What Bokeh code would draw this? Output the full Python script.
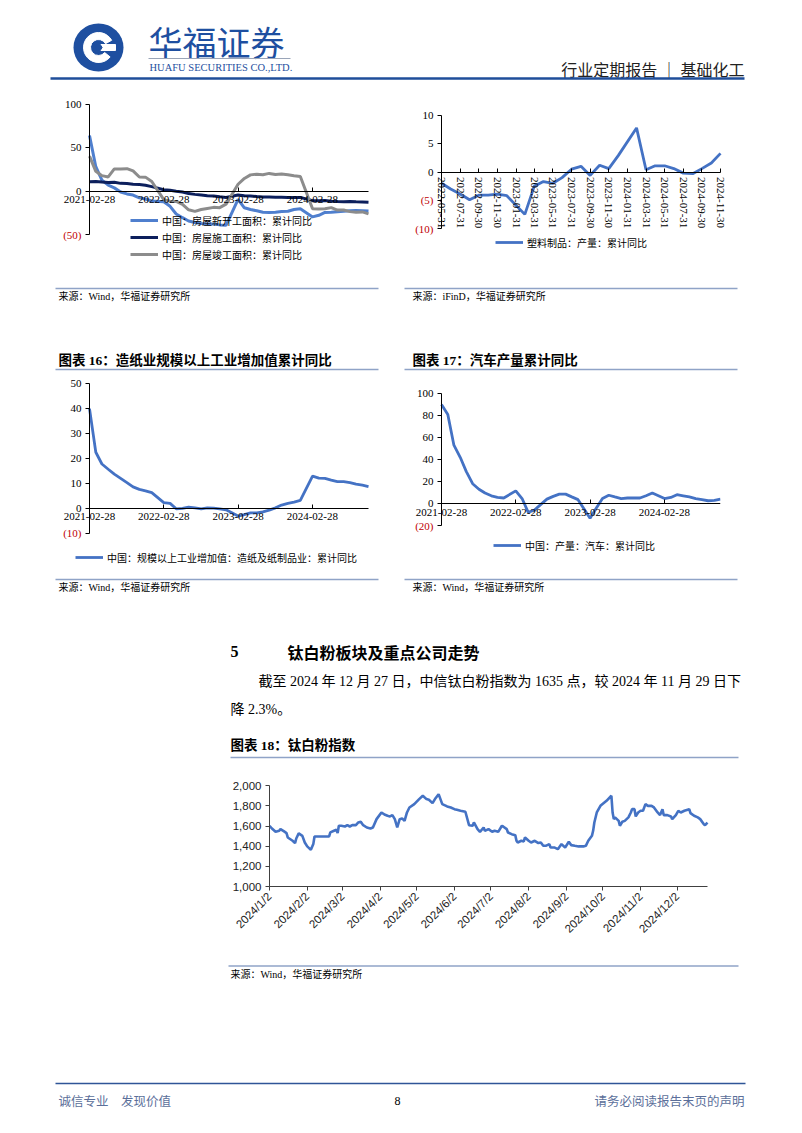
import pandas as pd
from bokeh.plotting import figure
from bokeh.layouts import column, row
from bokeh.models import (Range1d, LinearAxis, FixedTicker, CustomJSTickFormatter,
                          NumeralTickFormatter, Legend, LegendItem, ColumnDataSource)
from bokeh.core.properties import value
from bokeh.embed import file_html
from bokeh.resources import INLINE

SERIF = "Liberation Serif, Noto Sans CJK SC"
CJK = "Noto Sans CJK SC"
SANS = "Liberation Sans, Noto Sans CJK SC"
BLUE = "#4472C4"
RED = "#C00000"
LIGHT = "#8FA3C7"
NAVY = "#1F4E9A"

# ---------------- data ----------------
monthly = [f"{y}-{m:02d}" for y in (2021, 2022, 2023) for m in range(2, 13)] + \
          [f"2024-{m:02d}" for m in range(2, 12)]

starts_yoy = [64.3, 28.2, 12.8, 6.9, 3.8, -0.9, -3.2, -4.5, -7.7, -9.1, -11.4,
              -12.2, -17.5, -26.3, -30.6, -34.4, -36.1, -37.2, -38.0, -37.8, -38.9, -39.4,
              -9.4, -19.2, -21.2, -22.6, -24.3, -24.5, -24.4, -23.4, -23.2, -21.2, -20.4,
              -29.7, -27.8, -24.6, -24.2, -23.7, -23.2, -22.5, -22.2, -22.6, -23.0]
under_constr_yoy = [11.0, 11.2, 10.5, 10.1, 10.2, 9.0, 8.9, 7.9, 7.6, 6.9, 5.2,
                    1.6, 1.0, 0.0, -1.0, -2.8, -3.7, -4.5, -5.3, -5.7, -6.5, -7.2,
                    -4.4, -5.2, -5.6, -6.2, -6.6, -6.8, -7.1, -7.1, -7.3, -7.2, -7.2,
                    -11.0, -11.1, -10.8, -11.6, -12.0, -12.1, -12.0, -12.2, -12.4, -12.7]
completed_yoy = [40.4, 22.9, 17.9, 16.4, 25.7, 25.7, 26.0, 23.4, 16.3, 16.2, 11.2,
                 -9.8, -11.5, -11.9, -15.3, -21.5, -23.3, -21.1, -19.9, -18.7, -19.0, -15.0,
                 8.0, 14.7, 18.8, 19.6, 19.0, 20.5, 19.2, 19.8, 19.0, 17.9, 17.0,
                 -20.2, -20.7, -20.4, -19.0, -21.8, -21.8, -23.6, -24.4, -23.9, -26.2]

plastic_months = [f"2022-{m:02d}" for m in range(5, 13)] + \
                 [f"2023-{m:02d}" for m in range(2, 13)] + \
                 [f"2024-{m:02d}" for m in range(2, 12)]
plastic_yoy = [-2.0, -3.0, -3.9, -4.9, -4.1, -4.1, -3.9, -4.2,
               -7.5, -2.5, -1.7, -2.0, -1.0, 0.5, 1.0, -0.6, 1.2, 0.6, 2.9,
               7.8, 0.4, 1.1, 1.1, 0.6, -0.2, -0.3, 0.6, 1.6, 3.3]

paper_yoy = [39.9, 22.4, 17.7, 15.6, 13.6, 11.9, 10.2, 8.5, 7.5, 6.9, 6.2,
             2.2, 1.9, -0.3, -0.1, 0.4, 0.1, -0.3, 0.1, 0.0, -0.3, -0.7,
             -3.2, -2.6, -1.9, -1.9, -1.5, -0.8, 0.1, 1.2, 1.9, 2.4, 3.1,
             12.8, 12.0, 11.9, 11.2, 10.6, 10.6, 10.2, 9.6, 9.2, 8.6]

auto_yoy = [90, 81, 53, 42, 29, 18, 13, 9.5, 7, 5.5, 5,
            11.5, 4.5, -8, -6, -1, 4, 6.5, 8.5, 8.5, 6, 3.5,
            -13.5, -4, 4.5, 7.5, 6, 4.5, 5, 5, 5, 7, 9.5,
            4.5, 5.5, 8, 7, 6, 4.5, 3.5, 2.5, 2.8, 4]

ti_dates = ["01-02", "01-04", "01-07", "01-10", "01-11", "01-14", "01-16", "01-17", "01-21", "01-23",
            "01-24", "01-26", "01-29", "01-31", "02-02", "02-05", "02-07", "02-08", "02-12", "02-16",
            "02-20", "02-21", "02-24", "02-26", "02-27", "02-28", "03-01", "03-04", "03-06", "03-08",
            "03-10", "03-13", "03-15", "03-17", "03-19", "03-22", "03-25", "03-27", "03-30", "04-03",
            "04-06", "04-08", "04-10", "04-12", "04-14", "04-16", "04-18", "04-20", "04-22", "04-24",
            "04-26", "04-30", "05-04", "05-07", "05-10", "05-12", "05-15", "05-17", "05-20", "05-23",
            "05-27", "05-30", "06-02", "06-04", "06-07", "06-11", "06-14", "06-17", "06-18", "06-21",
            "06-23", "06-26", "06-27", "06-30", "07-03", "07-05", "07-08", "07-11", "07-12", "07-15",
            "07-16", "07-19", "07-22", "07-23", "07-24", "07-27", "07-29", "07-30", "08-02", "08-04",
            "08-07", "08-10", "08-12", "08-14", "08-16", "08-19", "08-20", "08-23", "08-26", "08-29",
            "09-01", "09-04", "09-06", "09-09", "09-12", "09-16", "09-18", "09-20", "09-23", "09-24",
            "09-25", "09-27", "09-30", "10-05", "10-09", "10-10", "10-11", "10-12", "10-15", "10-16",
            "10-18", "10-20", "10-23", "10-25", "10-26", "10-28", "10-29", "10-31", "11-02", "11-04",
            "11-06", "11-08", "11-11", "11-13", "11-16", "11-18", "11-20", "11-21", "11-24", "11-27",
            "11-28", "12-01", "12-03", "12-05", "12-08", "12-12", "12-13", "12-16", "12-19", "12-21",
            "12-24", "12-25", "12-27"]
ti_values = [1603, 1576, 1543, 1553, 1570, 1547, 1530, 1487, 1454, 1431,
             1477, 1527, 1503, 1437, 1398, 1364, 1421, 1497, 1497, 1497,
             1497, 1537, 1553, 1563, 1530, 1603, 1603, 1596, 1609, 1596,
             1609, 1609, 1636, 1643, 1609, 1586, 1576, 1586, 1669, 1735,
             1712, 1702, 1696, 1709, 1669, 1586, 1669, 1676, 1652, 1735,
             1785, 1818, 1868, 1901, 1868, 1861, 1828, 1868, 1917, 1818,
             1795, 1785, 1768, 1762, 1752, 1742, 1609, 1603, 1636, 1570,
             1543, 1586, 1553, 1570, 1543, 1553, 1543, 1603, 1596, 1570,
             1536, 1520, 1510, 1454, 1437, 1454, 1447, 1487, 1454, 1437,
             1454, 1431, 1437, 1404, 1404, 1421, 1388, 1388, 1371, 1421,
             1388, 1444, 1411, 1404, 1398, 1398, 1404, 1454, 1503, 1553,
             1636, 1735, 1801, 1851, 1901, 1735, 1669, 1686, 1652, 1603,
             1643, 1652, 1686, 1735, 1768, 1768, 1696, 1735, 1752, 1752,
             1818, 1801, 1801, 1785, 1735, 1709, 1768, 1709, 1709, 1696,
             1669, 1709, 1752, 1735, 1752, 1768, 1729, 1702, 1686, 1669,
             1619, 1609, 1635]

c1_xticks = ["2021-02-28", "2022-02-28", "2023-02-28", "2024-02-28"]
c2_xticks = ["2022-05-31", "2022-07-31", "2022-09-30", "2022-11-30", "2023-01-31", "2023-03-31",
             "2023-05-31", "2023-07-31", "2023-09-30", "2023-11-30", "2024-01-31", "2024-03-31",
             "2024-05-31", "2024-07-31", "2024-09-30", "2024-11-30"]
c18_xticks = [f"2024-{m:02d}-02" for m in range(1, 13)]
c1_yticks = [-50, 0, 50, 100]
c2_yticks = [-10, -5, 0, 5, 10]
c16_yticks = [-10, 0, 10, 20, 30, 40, 50]
c17_yticks = [-20, 0, 20, 40, 60, 80, 100]
c18_yticks = [1000, 1200, 1400, 1600, 1800, 2000]

# ---------------- helpers ----------------
def month_end(lst):
    return pd.to_datetime(lst) + pd.offsets.MonthEnd(0)


def ms(s):
    return pd.Timestamp(s).value / 1e6


def xr_from(d0, d1, p0, p1, f0, f1):
    """x range so that date d0 sits at pixel p0 and d1 at p1, for a frame spanning f0..f1."""
    t0, t1 = pd.Timestamp(d0), pd.Timestamp(d1)
    k = (p1 - p0) / ((t1 - t0) / pd.Timedelta(days=1))
    return (t0 - pd.Timedelta(days=(p0 - f0) / k), t0 + pd.Timedelta(days=(f1 - p0) / k))


def yr_from(v0, v1, p0, p1, f0, f1):
    """y range so that value v0 sits at page y p0 and v1 at p1 (page y downwards), frame f0(top)..f1(bottom)."""
    k = (p0 - p1) / (v1 - v0)
    return (v0 - (f1 - p0) / k, v0 + (p0 - f0) / k)


DATE_JS = """
const d = new Date(tick);
const m = String(d.getUTCMonth() + 1).padStart(2, '0');
const dd = String(d.getUTCDate()).padStart(2, '0');
return d.getUTCFullYear() + '-' + m + '-' + dd;
"""
SLASH_JS = """
const d = new Date(tick);
return d.getUTCFullYear() + '/' + (d.getUTCMonth() + 1) + '/' + d.getUTCDate();
"""


def base_fig(W, H, **kw):
    p = figure(width=W, height=H, x_axis_type=None, y_axis_type=None, title=None,
               toolbar_location=None, output_backend="svg", outline_line_color=None,
               background_fill_color=None, border_fill_color=None, **kw)
    return p


PAGE_L = 45   # shared left border of all full-width column children


def strip(H, y0, mt=0):
    p = base_fig(802, H, x_range=Range1d(PAGE_L, 802), y_range=Range1d(y0 + H, y0),
                 min_border_left=PAGE_L, min_border_right=0, min_border_top=0, min_border_bottom=0)
    p.margin = (mt, 0, 0, 0)
    return p


def txt(p, x, y, s, size, font=SERIF, color="#000000", align="left", bold=False):
    p.text(x=[x], y=[y], text=[s], text_font=value(font), text_font_size=f"{size}px",
           text_align=align, text_baseline="middle", text_color=color,
           text_font_style="bold" if bold else "normal")


def hline(p, x0, x1, y, color=LIGHT, w=1.5):
    p.line(x=[x0, x1], y=[y, y], line_color=color, line_width=w)


def chart(W, H, L, R, T, B, xr, yr, ml=0):
    p = base_fig(W, H, x_range=Range1d(*xr), y_range=Range1d(*yr),
                 min_border_left=L, min_border_right=R, min_border_top=T, min_border_bottom=B)
    p.margin = (0, 0, 0, ml)
    return p


def y_axes(p, ticks, x0):
    pos = LinearAxis(ticker=FixedTicker(ticks=ticks, minor_ticks=[]),
                     formatter=CustomJSTickFormatter(code="return tick < 0 ? '' : String(tick);"),
                     bounds=(min(ticks), max(ticks)), fixed_location=x0,
                     major_tick_out=4, major_tick_in=0, minor_tick_line_color=None,
                     major_label_standoff=4, major_label_text_font=SERIF,
                     major_label_text_font_size="11px", major_label_text_color="#000000",
                     axis_line_color="#000000", major_tick_line_color="#000000")
    neg = LinearAxis(ticker=FixedTicker(ticks=[t for t in ticks if t < 0], minor_ticks=[]),
                     formatter=CustomJSTickFormatter(code="return '(' + Math.abs(tick) + ')';"),
                     fixed_location=x0, axis_line_color=None, major_tick_line_color=None,
                     minor_tick_line_color=None, major_tick_out=0, major_tick_in=0,
                     major_label_standoff=8, major_label_text_font=SERIF,
                     major_label_text_font_size="11px", major_label_text_color=RED)
    p.add_layout(neg, "left")
    p.add_layout(pos, "left")


def x_axis(p, ticks, code, bounds, orient="horizontal"):
    ax = LinearAxis(ticker=FixedTicker(ticks=[ms(t) for t in ticks], minor_ticks=[]),
                    formatter=CustomJSTickFormatter(code=code), fixed_location=0,
                    bounds=(ms(bounds[0]), ms(bounds[1])),
                    major_tick_in=4, major_tick_out=0, minor_tick_line_color=None,
                    major_label_orientation=orient, major_label_standoff=5,
                    major_label_text_font=SERIF, major_label_text_font_size="11px",
                    major_label_text_color="#000000", axis_line_color="#000000",
                    major_tick_line_color="#000000")
    p.add_layout(ax, "below")


def legend(p, items, loc):
    lg = Legend(items=[LegendItem(label=value(l), renderers=[r]) for l, r in items],
                location=loc, orientation="vertical", padding=0, margin=0, spacing=1,
                glyph_width=28, glyph_height=16, label_height=16, label_standoff=4,
                label_text_font=CJK, label_text_font_size="10px",
                label_text_color="#000000", border_line_color=None,
                background_fill_color=None, background_fill_alpha=0)
    p.add_layout(lg)


# ---------------- header ----------------
hdr = strip(95, 0)
hdr.ellipse(x=[98], y=[47], width=50, height=48, fill_color="#1E4FA0", line_color=None)
hdr.annular_wedge(x=[98], y=[47], inner_radius=8, outer_radius=15, start_angle=0.5,
                  end_angle=5.6, color="white")
hdr.rect(x=[107], y=[47], width=16, height=6, color="white")
hdr.scatter(x=[98], y=[47], marker="diamond", size=11, color="#1E4FA0")
txt(hdr, 148, 41, "华福证券", 34, font=CJK, color="#1E4FA0")
hline(hdr, 148, 290, 58, color="#9AA5B8", w=1)
txt(hdr, 149, 67, "HUAFU SECURITIES CO.,LTD.", 10.5, font=SERIF, color="#1E4FA0")
txt(hdr, 744, 68, "行业定期报告 ｜ 基础化工", 16, font=CJK, color="#222222", align="right")
hline(hdr, 50, 744, 78, color=NAVY, w=2.5)

# ---------------- row 1: frames at page y 100..262 ----------------
d1 = month_end(monthly)
src1 = ColumnDataSource(dict(x=d1, a=starts_yoy, b=under_constr_yoy, c=completed_yoy))
c1 = chart(380, 239, 60, 10, 5, 72,
           xr_from("2021-02-28", "2024-11-30", 89, 368, 60, 370),
           yr_from(100, -50, 104, 234, 100, 262))
y_axes(c1, c1_yticks, ms("2021-02-28"))
x_axis(c1, c1_xticks, DATE_JS, ("2021-02-28", "2024-11-30"))
r1a = c1.line("x", "a", source=src1, line_color="#4F7FCE", line_width=3)
r1b = c1.line("x", "b", source=src1, line_color="#0C1F5C", line_width=3)
r1c = c1.line("x", "c", source=src1, line_color="#8C8C8C", line_width=3)
legend(c1, [("中国：房屋新开工面积：累计同比", r1a), ("中国：房屋施工面积：累计同比", r1b),
            ("中国：房屋竣工面积：累计同比", r1c)], (130 - 60, 0))

d2 = month_end(plastic_months)
src2 = ColumnDataSource(dict(x=d2, y=plastic_yoy))
c2 = chart(462, 239, 60, 67, 5, 72,
           xr_from("2022-05-31", "2024-11-30", 441, 720, 400, 735),
           yr_from(10, -10, 115, 228, 100, 262), ml=-40)
y_axes(c2, c2_yticks, ms("2022-05-31"))
x_axis(c2, c2_xticks, DATE_JS, ("2022-05-31", "2024-11-30"), orient="vertical")
r2 = c2.line("x", "y", source=src2, line_color=BLUE, line_width=2.8)
legend(c2, [("塑料制品：产量：累计同比", r2)], (495 - 400, 12))

# ---------------- strip A (page y 278..375) ----------------
sa = strip(97, 278, mt=278 - 334)
hline(sa, 55, 378, 288)
hline(sa, 404, 737, 288)
txt(sa, 58, 296, "来源：Wind，华福证券研究所", 10)
txt(sa, 412, 296, "来源：iFinD，华福证券研究所", 10)
txt(sa, 58, 360, "图表 16：造纸业规模以上工业增加值累计同比", 13.5, bold=True)
txt(sa, 412, 360, "图表 17：汽车产量累计同比", 13.5, bold=True)
hline(sa, 55, 378, 369)
hline(sa, 404, 737, 369)

# ---------------- row 2: frames at page y 378..567 ----------------
src16 = ColumnDataSource(dict(x=d1, y=paper_yoy))
c16 = chart(380, 222, 60, 10, 3, 30,
            xr_from("2021-02-28", "2024-11-30", 89, 368, 60, 370),
            yr_from(50, -10, 383, 532.5, 378, 567))
y_axes(c16, c16_yticks, ms("2021-02-28"))
x_axis(c16, c1_xticks, DATE_JS, ("2021-02-28", "2024-11-30"))
r16 = c16.line("x", "y", source=src16, line_color=BLUE, line_width=2.8)
legend(c16, [("中国：规模以上工业增加值：造纸及纸制品业：累计同比", r16)], (75 - 60, 2))

src17 = ColumnDataSource(dict(x=d1, y=auto_yoy))
c17 = chart(462, 222, 60, 82, 3, 30,
            xr_from("2021-02-28", "2024-11-30", 441, 720, 400, 720),
            yr_from(100, -20, 393, 525, 378, 567), ml=-40)
y_axes(c17, c17_yticks, ms("2021-02-28"))
x_axis(c17, c1_xticks, DATE_JS, ("2021-02-28", "2024-11-30"))
r17 = c17.line("x", "y", source=src17, line_color=BLUE, line_width=2.8)
legend(c17, [("中国：产量：汽车：累计同比", r17)], (493 - 400, 14))

# ---------------- strip B (page y 570..770) ----------------
sb = strip(200, 570, mt=570 - 597)
hline(sb, 55, 378, 579)
hline(sb, 404, 737, 579)
txt(sb, 58, 587, "来源：Wind，华福证券研究所", 10)
txt(sb, 412, 587, "来源：Wind，华福证券研究所", 10)
txt(sb, 230, 651, "5", 16, bold=True)
txt(sb, 287, 651, "钛白粉板块及重点公司走势", 16, font=CJK, bold=True)
txt(sb, 258, 681, "截至 2024 年 12 月 27 日，中信钛白粉指数为 1635 点，较 2024 年 11 月 29 日下", 14)
txt(sb, 230, 709, "降 2.3%。", 14)
txt(sb, 230, 745, "图表 18：钛白粉指数", 13.5, bold=True)
hline(sb, 230, 738, 757)

# ---------------- chart 18 (frame page y 775..945, x axis at 1000) ----------------
src18 = ColumnDataSource(dict(x=pd.to_datetime(["2024-" + d for d in ti_dates]), y=ti_values))
c18 = base_fig(802, 230,
               x_range=Range1d(*xr_from("2024-01-02", "2024-12-27", 269, 707, PAGE_L, 802)),
               y_range=Range1d(*yr_from(2000, 1000, 785.3, 886, 775, 945)),
               min_border_left=PAGE_L, min_border_right=0, min_border_top=5, min_border_bottom=55)
ya18 = LinearAxis(ticker=FixedTicker(ticks=c18_yticks, minor_ticks=[]),
                  formatter=NumeralTickFormatter(format="0,0"), bounds=(1000, 2000),
                  fixed_location=ms("2024-01-02"),
                  major_tick_out=4, major_tick_in=0, minor_tick_line_color=None,
                  major_label_standoff=4, major_label_text_font=SANS,
                  major_label_text_font_size="11.5px", major_label_text_color="#222222",
                  axis_line_color="#404040", major_tick_line_color="#404040")
xa18 = LinearAxis(ticker=FixedTicker(ticks=[ms(t) for t in c18_xticks], minor_ticks=[]),
                  formatter=CustomJSTickFormatter(code=SLASH_JS), major_tick_out=4, major_tick_in=0,
                  bounds=(ms("2024-01-02"), ms("2024-12-27")), fixed_location=1000,
                  minor_tick_line_color=None, major_label_orientation=0.785398,
                  major_label_standoff=4, major_label_text_font=SANS,
                  major_label_text_font_size="11.5px", major_label_text_color="#222222",
                  axis_line_color="#404040", major_tick_line_color="#404040")
c18.add_layout(ya18, "left")
c18.add_layout(xa18, "below")
c18.line("x", "y", source=src18, line_color=BLUE, line_width=2.6)

# ---------------- strip C / footer (page y 946..1133) ----------------
sc = strip(187, 946, mt=946 - 1000)
hline(sc, 228, 738, 965.5)
txt(sc, 230, 974, "来源：Wind，华福证券研究所", 10)
hline(sc, 55, 745, 1083, color="#2F5597", w=1.5)
txt(sc, 58, 1100, "诚信专业\u3000发现价值", 12.5, font=CJK, color="#5B6F9A")
txt(sc, 397, 1100, "8", 12, align="center")
txt(sc, 744, 1100, "请务必阅读报告末页的声明", 12.5, font=CJK, color="#5B6F9A", align="right")

page = column(hdr, row(c1, c2), sa, row(c16, c17), sb, c18, sc)
open("out.html", "w").write(file_html(page, INLINE))
